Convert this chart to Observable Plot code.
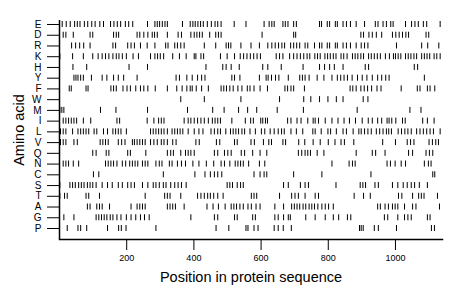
<!DOCTYPE html>
<html>
<head>
<meta charset="utf-8">
<script src="https://cdn.jsdelivr.net/npm/d3@7"></script>
<script src="https://cdn.jsdelivr.net/npm/@observablehq/plot@0.6"></script>
<style>
  html, body { margin: 0; padding: 0; background: #fff; }
</style>
</head>
<body>
<div id="chart"></div>
<script>
// Residue order from top row to bottom row
const aminoAcids = ["E","D","R","K","H","Y","F","W","M","I","L","V","Q","N","C","S","T","A","G","P"];

// Sequence positions of each residue
const posE = [8,20,32,45,53,61,74,84,96,106,120,131,152,162,172,182,196,206,218,262,284,291,298,306,314,321,366,389,397,404,412,420,428,440,452,463,471,481,520,555,609,624,632,639,665,672,680,697,705,774,780,797,804,821,827,844,854,866,883,908,940,948,963,973,986,993,1030,1048,1058,1068,1083,1093,1133];
const posD = [11,19,41,91,99,161,169,176,231,239,251,263,276,283,291,321,353,363,391,401,409,417,425,447,465,473,481,603,697,703,897,905,921,931,943,959,991,1001,1011,1021,1031,1039,1091,1099];
const posR = [36,48,60,72,91,159,167,203,213,223,241,261,284,316,323,343,351,361,371,431,465,496,503,510,540,570,595,620,632,642,652,662,670,688,697,706,715,731,739,759,774,781,797,804,821,827,844,854,866,883,898,908,918,1003,1078,1096,1129];
const posK = [1,39,71,99,115,127,137,147,159,169,177,187,199,219,235,271,284,292,300,310,337,357,377,401,406,421,429,479,499,521,538,548,558,568,578,588,598,645,655,665,685,697,707,717,727,737,745,760,768,776,790,798,806,815,823,838,846,856,872,880,888,897,905,920,928,937,946,955,970,982,994,1000,1008,1016,1030,1038,1046,1055,1063,1078,1086,1094,1102,1115,1123,1133];
const posH = [40,81,207,262,436,486,496,511,535,605,620,660,725,774,789,804,818,844,910,920,1056,1066];
const posY = [43,49,55,63,71,95,127,141,161,175,191,231,347,357,379,395,411,423,433,513,521,537,595,615,621,631,643,653,681,715,723,731,743,767,787,811,827,837,847,857,871,887,901,915,931,947,959,971,981,1086];
const posF = [29,35,79,85,153,161,169,189,201,211,227,241,251,263,285,321,349,365,379,389,395,407,423,443,481,489,497,507,517,531,543,559,567,579,597,619,671,679,689,697,729,865,873,883,897,907,917,929,945,957,1017,1065,1073,1095,1103,1117];
const posW = [361,431,540,655,727,748,774,799,824,844,904,918];
const posM = [1,7,13,122,168,262,381,456,490,533,560,587,648,726,886,1043,1076];
const posI = [11,19,27,35,43,51,71,93,171,179,261,281,295,303,311,371,383,391,401,411,421,431,443,455,463,471,479,513,553,569,577,599,605,613,619,679,689,707,719,739,755,761,771,791,811,829,847,863,881,901,919,931,947,959,975,981,989,1001,1021,1029,1081,1095,1115];
const posL = [3,11,19,39,55,63,71,79,87,103,111,131,143,159,167,175,183,199,271,279,287,295,303,311,321,335,343,351,359,367,383,401,415,427,451,461,471,479,495,509,517,525,533,543,551,567,583,601,611,627,639,651,661,669,689,705,724,754,761,779,799,807,824,844,854,874,891,898,908,918,928,943,953,963,973,980,988,1008,1018,1028,1037,1047,1063,1073,1083,1093,1103,1113,1133];
const posV = [3,11,19,43,53,121,129,137,145,175,185,195,217,223,231,239,247,255,271,281,291,303,311,321,337,347,406,416,467,477,521,529,570,580,607,623,631,665,673,712,730,755,776,800,820,838,848,876,962,1000,1035,1045,1055,1100,1110,1120,1128];
const posQ = [99,109,139,147,203,211,257,321,331,339,361,375,383,391,401,461,471,491,501,511,541,551,575,597,617,711,721,731,739,747,767,787,883,931,941,969,1039,1051,1091,1101,1111];
const posN = [11,19,27,41,57,137,145,153,161,171,187,197,209,217,225,233,247,255,263,287,297,305,327,335,351,363,375,397,415,437,459,481,491,507,523,531,539,547,563,595,611,811,862,872,880,975,985,999,1017,1030,1086,1098,1106];
const posC = [101,117,309,403,433,449,461,471,483,579,597,609,617,697,781,927,1111,1117];
const posS = [1,31,39,47,57,65,73,83,91,99,109,127,143,157,175,187,203,213,223,247,263,279,287,297,309,317,331,343,353,363,377,499,507,515,529,539,547,667,681,717,731,741,823,895,903,911,939,949,991,1007,1023,1035,1047,1057,1071,1095];
const posT = [1,15,23,79,87,119,255,313,321,329,361,411,421,431,441,449,459,471,487,571,579,587,655,691,701,711,731,761,771,877,905,925,1009,1019,1051,1069,1077,1085,1125];
const posA = [83,91,111,119,127,149,213,231,239,247,255,321,329,337,345,371,439,457,473,493,511,519,527,537,547,561,571,585,597,641,667,691,699,707,715,725,733,743,751,759,769,781,791,801,815,947,955,969,979,991,999,1007,1027,1051,1061,1131];
const posG = [13,43,109,117,125,133,141,151,159,171,183,199,213,227,241,253,267,391,461,471,521,529,575,583,641,651,667,681,687,733,761,791,815,831,857,867,967,977,1007,1027,1037,1047,1095,1103];
const posP = [23,55,63,81,143,176,184,198,287,466,504,555,561,579,591,639,651,666,690,893,898,904,937,949,1003,1107,1116];

const positionsByResidue = {E: posE, D: posD, R: posR, K: posK, H: posH, Y: posY, F: posF, W: posW, M: posM, I: posI,
  L: posL, V: posV, Q: posQ, N: posN, C: posC, S: posS, T: posT, A: posA, G: posG, P: posP};

const xTicks = [200, 400, 600, 800, 1000];
const xTitle = "Position in protein sequence";
const yTitle = "Amino acid";

// One record per residue occurrence
const occurrences = aminoAcids.flatMap(aa => positionsByResidue[aa].map(position => ({aa, position})));

const font = "'Liberation Sans', Arial, Helvetica, sans-serif";

const chart = Plot.plot({
  width: 460,
  height: 299,
  marginLeft: 59,
  marginRight: 18,
  marginTop: 20,
  marginBottom: 60,
  style: {fontFamily: font, background: "#fff", color: "#000"},
  x: {domain: [0, 1140]},
  y: {type: "band", domain: aminoAcids, range: [18.63, 233.37], paddingInner: 0.44, paddingOuter: 0.22, round: false},
  marks: [
    Plot.tickX(occurrences, {x: "position", y: "aa", stroke: "#000", strokeWidth: 1}),
    Plot.ruleX([0], {stroke: "#000", strokeWidth: 1.5}),
    Plot.frame({anchor: "bottom", stroke: "#000", strokeWidth: 1.5}),
    Plot.axisX({ticks: xTicks, tickFormat: d3.format("d"), tickSize: 11, tickPadding: 4, fontSize: 9, label: null}),
    Plot.axisY({tickSize: 12, tickPadding: 6, fontSize: 10, label: null}),
    Plot.text([xTitle], {frameAnchor: "bottom", dy: 42, fontSize: 14.5, fill: "#000"}),
    Plot.text([yTitle], {frameAnchor: "left", textAnchor: "middle", dx: -40, rotate: -90, fontSize: 14.5, fill: "#000"})
  ]
});

document.getElementById("chart").appendChild(chart);
</script>
</body>
</html>
